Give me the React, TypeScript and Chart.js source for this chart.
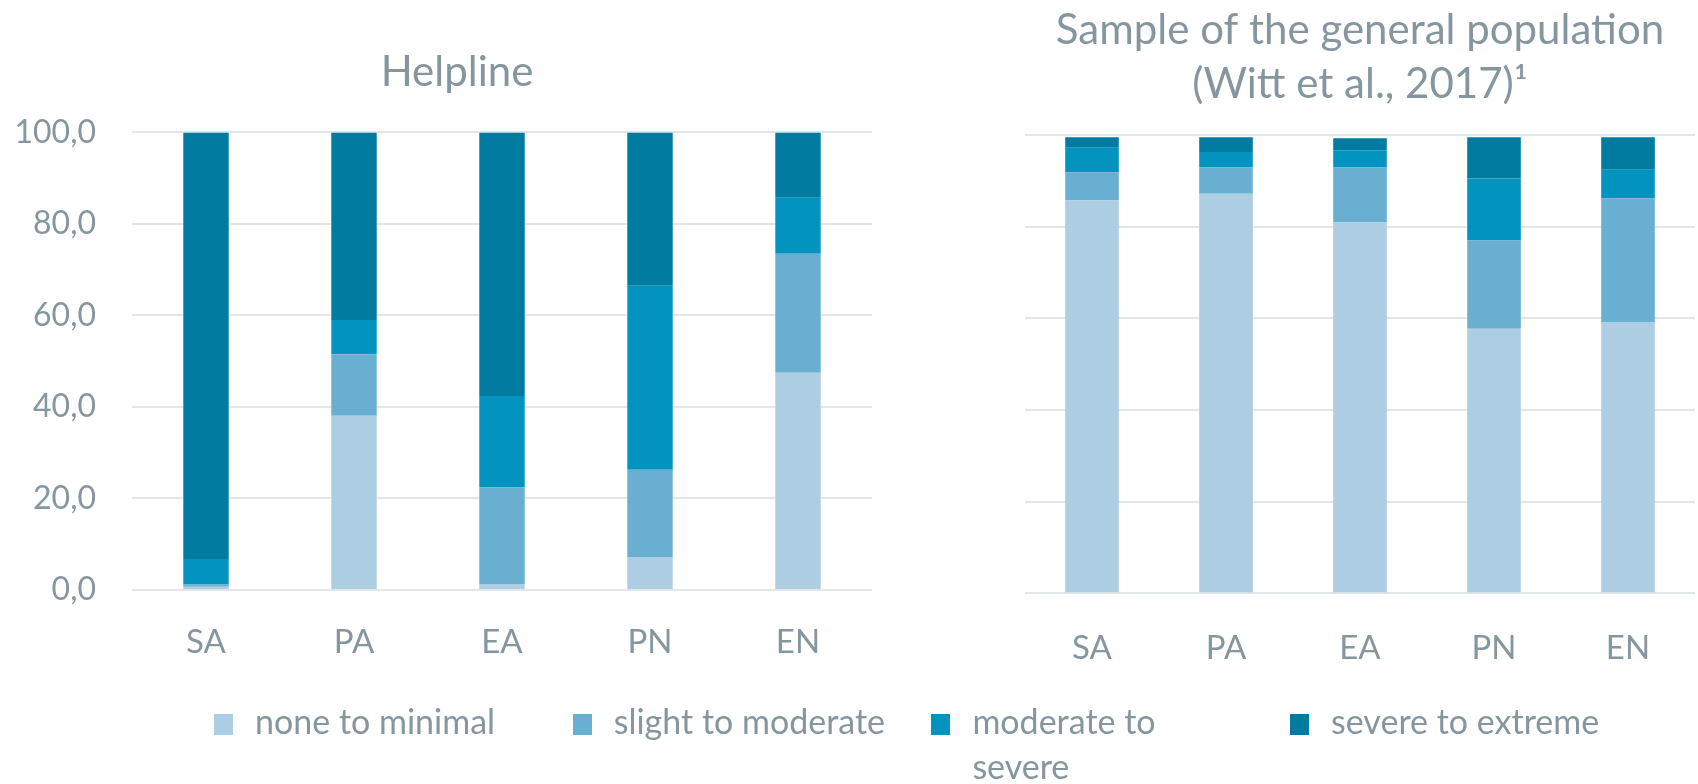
import React, { useEffect, useRef } from "react";
import { Chart, registerables } from "chart.js";

Chart.register(...registerables);

const categories = ["SA", "PA", "EA", "PN", "EN"];
const seriesLabels = ["none to minimal", "slight to moderate", "moderate to severe", "severe to extreme"];
const seriesColors = ["#ADCDE2", "#69AFD2", "#0293BF", "#027BA0"];

// Helpline (left)
const helplineNone = [0.7, 38.1, 1.3, 7.2, 47.5];
const helplineSlight = [0.5, 13.4, 21.1, 19.1, 26.0];
const helplineModerate = [5.6, 7.5, 20.0, 40.2, 12.2];
const helplineSevere = [93.2, 41.0, 57.6, 33.5, 14.3];

// General population sample (right)
const populationNone = [85.7, 87.2, 80.9, 57.7, 59.2];
const populationSlight = [6.2, 5.7, 12.0, 19.3, 27.0];
const populationModerate = [5.3, 3.4, 3.8, 13.5, 6.2];
const populationSevere = [2.3, 3.2, 2.6, 9.0, 7.1];

const leftTitle = "Helpline";
const rightTitle = ["Sample of the general population", "(Witt et al., 2017)¹"];
const yMin = 0;
const yMax = 100;
const yStep = 20;

const TEXT = "#85969F";
const GRID = "#E2E6E9";
const FONT = "Lato, 'Open Sans', sans-serif";
const W = "400";

function datasets(series: number[][], barPct: number) {
  return series.map((d, i) => ({
    label: seriesLabels[i],
    data: d,
    backgroundColor: seriesColors[i],
    borderWidth: 0,
    barPercentage: barPct,
    categoryPercentage: 1,
  }));
}

export default function App() {
  const leftRef = useRef<HTMLCanvasElement>(null);
  const rightRef = useRef<HTMLCanvasElement>(null);

  useEffect(() => {
    const left = new Chart(leftRef.current!, {
      type: "bar",
      data: {
        labels: categories,
        datasets: datasets([helplineNone, helplineSlight, helplineModerate, helplineSevere], 0.307),
      },
      options: {
        animation: false,
        responsive: false,
        devicePixelRatio: 1,
        layout: { padding: { left: 0, right: 0, top: 0, bottom: 94 } },
        plugins: {
          legend: { display: false },
          tooltip: { enabled: false },
          title: {
            display: true,
            text: leftTitle,
            color: TEXT,
            font: { family: FONT, size: 42, weight: W as any, lineHeight: 1.2 },
            padding: { top: 47, bottom: 35 },
          },
        },
        scales: {
          x: {
            stacked: true,
            grid: { display: false },
            border: { display: false },
            ticks: { color: TEXT, font: { family: FONT, size: 33, weight: W as any }, padding: 25 },
            afterFit: (s: any) => { s.height = 100; },
          },
          y: {
            stacked: true,
            min: yMin,
            max: yMax,
            ticks: {
              stepSize: yStep,
              color: TEXT,
              font: { family: FONT, size: 32, weight: W as any },
              padding: 36,
              callback: (v: any) => Number(v).toFixed(1).replace(".", ","),
            },
            grid: { color: GRID, lineWidth: 2, drawTicks: false },
            border: { display: false },
            afterFit: (s: any) => { s.width = 132; },
          },
          spacer: {
            type: "linear",
            position: "right",
            display: true,
            min: yMin,
            max: yMax,
            grid: { display: false },
            border: { display: false },
            ticks: { display: false },
            afterFit: (s: any) => { s.width = 42; },
          },
        },
      },
    });

    const right = new Chart(rightRef.current!, {
      type: "bar",
      data: {
        labels: categories,
        datasets: datasets([populationNone, populationSlight, populationModerate, populationSevere], 0.4),
      },
      options: {
        animation: false,
        responsive: false,
        devicePixelRatio: 1,
        layout: { padding: { left: 5, right: 3, top: 0, bottom: 90.7 } },
        plugins: {
          legend: { display: false },
          tooltip: { enabled: false },
          title: {
            display: true,
            text: rightTitle,
            color: TEXT,
            font: { family: FONT, size: 42, weight: W as any, lineHeight: 1.286 },
            padding: { top: 3, bottom: 24 },
          },
        },
        scales: {
          x: {
            stacked: true,
            grid: { display: false },
            border: { display: false },
            ticks: { color: TEXT, font: { family: FONT, size: 33, weight: W as any }, padding: 27 },
            afterFit: (s: any) => { s.height = 100; },
          },
          y: {
            stacked: true,
            min: yMin,
            max: yMax,
            ticks: { stepSize: yStep, display: false },
            grid: { color: GRID, lineWidth: 2, drawTicks: false },
            border: { display: false },
            afterFit: (s: any) => { s.width = 0; },
          },
        },
      },
    });

    return () => {
      left.destroy();
      right.destroy();
    };
  }, []);

  const textWidths = [290, 310, 210, 310];

  return (
    <div style={{ position: "fixed", left: 0, top: 0, width: 1698, height: 784, background: "#fff", overflow: "hidden" }}>
      <canvas ref={leftRef} width={914} height={784} style={{ position: "absolute", left: 0, top: 0 }} />
      <canvas ref={rightRef} width={678} height={784} style={{ position: "absolute", left: 1020, top: 0 }} />
      <div style={{ position: "absolute", left: 214, top: 698, display: "flex" }}>
        {seriesLabels.map((lab, i) => (
          <div key={lab} style={{ width: 358.7, display: "flex", alignItems: "flex-start" }}>
            <div style={{ width: 19, height: 21, marginTop: 16, marginRight: 22, background: seriesColors[i], flex: "none" }} />
            <div style={{ width: textWidths[i], fontFamily: FONT, fontWeight: 400, fontSize: 34, lineHeight: "45px", color: TEXT, whiteSpace: "normal" }}>
              {lab}
            </div>
          </div>
        ))}
      </div>
    </div>
  );
}
